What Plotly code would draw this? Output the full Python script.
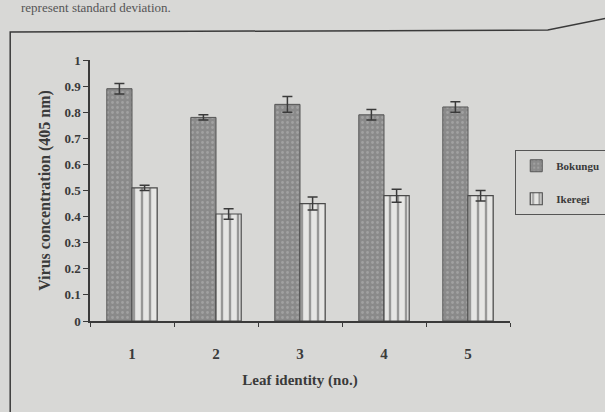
import plotly.graph_objects as go

# Leaf identity categories and virus concentration readings (absorbance at 405 nm)
leaves = ["1", "2", "3", "4", "5"]
bokungu = [0.89, 0.78, 0.83, 0.79, 0.82]
bokungu_sd = [0.02, 0.01, 0.03, 0.02, 0.02]
ikeregi = [0.51, 0.41, 0.45, 0.48, 0.48]
ikeregi_sd = [0.01, 0.02, 0.025, 0.025, 0.02]
y_ticks = [0, 0.1, 0.2, 0.3, 0.4, 0.5, 0.6, 0.7, 0.8, 0.9, 1]
y_tick_text = ["0", "0.1", "0.2", "0.3", "0.4", "0.5", "0.6", "0.7", "0.8", "0.9", "1"]

SERIF = "Liberation Serif"
INK = "#3a3a3a"
BG = "#d8d8d6"

fig = go.Figure()
fig.add_trace(go.Bar(
    x=leaves, y=bokungu, name="<b>Bokungu</b>", legendgroup="a",
    marker=dict(color="#8a8a8a", line=dict(color="#555555", width=1),
                pattern=dict(shape=".", fgcolor="#b8b8b8", size=5, solidity=0.25)),
    error_y=dict(type="data", array=bokungu_sd, color=INK, thickness=1.5, width=5),
))
fig.add_trace(go.Bar(
    x=leaves, y=ikeregi, name="<b>Ikeregi</b>", legendgroup="b",
    marker=dict(color="#e6e6e4", line=dict(color="#4a4a4a", width=1.2),
                pattern=dict(shape="|", fgcolor="#4a4a4a", bgcolor="#e6e6e4", size=8, solidity=0.3)),
    error_y=dict(type="data", array=ikeregi_sd, color=INK, thickness=1.5, width=5),
))

# Outer frame around the figure and the caption line above it
fig.add_shape(type="path", xref="paper", yref="paper",
              path="M -0.19,-0.4 L -0.19,1.107 L 1.09,1.115 L 1.23,1.16",
              line=dict(color="#3a3a3a", width=1.5))
fig.add_annotation(text="represent standard deviation.", xref="paper", yref="paper",
                   x=-0.17, y=1.2, xanchor="left", yanchor="middle", showarrow=False,
                   font=dict(family=SERIF, size=13, color="#555555"))

fig.update_layout(
    width=605, height=412,
    margin=dict(l=90, r=95, t=60, b=91, autoexpand=False),
    paper_bgcolor=BG, plot_bgcolor=BG,
    barmode="group", bargap=0.4, bargroupgap=0.0,
    font=dict(family=SERIF, color=INK),
    showlegend=True,
    legend=dict(x=1.012, y=0.655, xanchor="left", yanchor="top",
                bgcolor=BG, bordercolor="#555555", borderwidth=1.2,
                font=dict(family=SERIF, size=11, color=INK),
                traceorder="grouped", tracegroupgap=14, itemwidth=30),
    xaxis=dict(
        showgrid=False, showline=True, linecolor=INK, linewidth=1.5,
        ticks="outside", ticklen=4, tickcolor=INK, tickson="boundaries",
        ticklabelstandoff=18, tickfont=dict(family=SERIF, size=15, color=INK),
        ticktext=["<b>%s</b>" % c for c in leaves], tickvals=leaves,
        title=dict(text="<b>Leaf identity (no.)</b>", standoff=14,
                   font=dict(family=SERIF, size=15, color=INK)),
    ),
    yaxis=dict(
        range=[0, 1], tickvals=y_ticks, ticktext=["<b>%s</b>" % t for t in y_tick_text],
        showgrid=False, showline=True, linecolor=INK, linewidth=1.5, zeroline=False,
        ticks="outside", ticklen=5, tickcolor=INK,
        tickfont=dict(family=SERIF, size=13, color=INK),
        title=dict(text="<b>Virus concentration (405 nm)</b>", standoff=10,
                   font=dict(family=SERIF, size=16, color=INK)),
    ),
)

fig.write_html("out.html")
